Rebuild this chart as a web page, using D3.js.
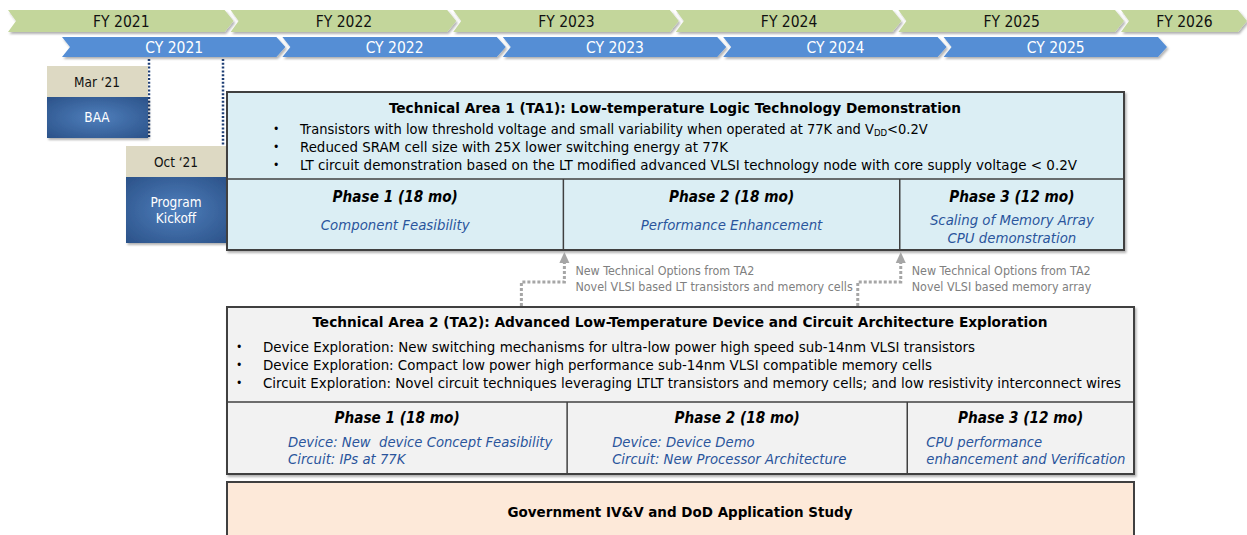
<!DOCTYPE html>
<html><head><meta charset="utf-8">
<script src="https://cdn.jsdelivr.net/npm/d3@7"></script>
<style>
html,body{margin:0;padding:0;background:#fff;}
svg text{font-family:Tahoma,"DejaVu Sans Condensed","DejaVu Sans",sans-serif;white-space:pre;}
</style></head>
<body><svg id="c" width="1247" height="535"></svg>
<script>
// ---------- data ----------
const fyLabels = ["FY 2021","FY 2022","FY 2023","FY 2024","FY 2025","FY 2026"];
const cyLabels = ["CY 2021","CY 2022","CY 2023","CY 2024","CY 2025"];
const milestoneMonths = [2, 9];                 // months from Jan 2021
const milestoneDates = ["Mar \u201821","Oct \u201821"];
const milestoneNames = [["BAA"],["Program","Kickoff"]];
const ta1Title = "Technical Area 1 (TA1): Low-temperature Logic Technology Demonstration";
const ta1Bullets = [
  ["Transistors with low threshold voltage and small variability when operated at 77K and V","DD","<0.2V"],
  ["Reduced SRAM cell size with 25X lower switching energy at 77K"],
  ["LT circuit demonstration based on the LT modified advanced VLSI technology node with core supply voltage < 0.2V"]
];
const phaseNames = ["Phase 1 (18 mo)","Phase 2 (18 mo)","Phase 3 (12 mo)"];
const phaseMonths = [18, 18, 12];
const ta1PhaseText = [["Component Feasibility"],["Performance Enhancement"],["Scaling of Memory Array","CPU demonstration"]];
const ta2Title = "Technical Area 2 (TA2): Advanced Low-Temperature Device and Circuit Architecture Exploration";
const ta2Bullets = [
  "Device Exploration: New switching mechanisms for ultra-low power high speed sub-14nm VLSI transistors",
  "Device Exploration: Compact low power high performance sub-14nm VLSI compatible memory cells",
  "Circuit Exploration: Novel circuit techniques leveraging LTLT transistors and memory cells; and low resistivity interconnect wires"
];
const ta2PhaseText = [["Device: New  device Concept Feasibility","Circuit: IPs at 77K"],["Device: Device Demo","Circuit: New Processor Architecture"],["CPU performance","enhancement and Verification"]];
const feedbackAtMonth = [18, 36];
const feedbackText = [["New Technical Options from TA2","Novel VLSI based LT transistors and memory cells"],["New Technical Options from TA2","Novel VLSI based memory array"]];
const govTitle = "Government IV&V and DoD Application Study";

// ---------- layout ----------
const svg = d3.select("#c");
const defs = svg.append("defs");
const sh = defs.append("filter").attr("id","sh").attr("x","-5%").attr("y","-20%").attr("width","115%").attr("height","150%");
sh.append("feDropShadow").attr("dx",1.5).attr("dy",2).attr("stdDeviation",1.2).attr("flood-color","#000").attr("flood-opacity",0.3);
const rg = defs.append("radialGradient").attr("id","bg").attr("cx","50%").attr("cy","50%").attr("r","70%");
rg.append("stop").attr("offset","0%").attr("stop-color","#4f7fbc");
rg.append("stop").attr("offset","100%").attr("stop-color","#2b5289");

const fyX = d3.scaleLinear().domain([0,1]).range([8, 230.6]);
const cyX = d3.scaleLinear().domain([0,1]).range([62, 282.4]);
const W = 1247;

function chev(s, e, top, h, d){
  const m = top + h/2;
  return `M${s},${top}L${e-6},${top}L${e+3},${m}L${e-6},${top+h}L${s},${top+h}L${s+d},${m}Z`;
}
// FY row
const fy = svg.append("g");
fyLabels.forEach((t,i)=>{
  const s = fyX(i), e = Math.min(fyX(i+1), W-3);
  fy.append("path").attr("d", chev(s,e,10,22,8)).attr("fill","#c3d69b").attr("filter","url(#sh)");
  fy.append("text").attr("x",(s+e)/2+2).attr("y",21).attr("dy","0.36em").attr("text-anchor","middle")
    .attr("font-size",15.5).attr("fill","#111").text(t);
});
// CY row
const cy = svg.append("g");
cyLabels.forEach((t,i)=>{
  const s = cyX(i), e = cyX(i+1);
  cy.append("path").attr("d", chev(s,e,37,20,8)).attr("fill","#558ed5").attr("filter","url(#sh)");
  cy.append("text").attr("x",(s+e)/2+2).attr("y",47).attr("dy","0.36em").attr("text-anchor","middle")
    .attr("font-size",15.5).attr("fill","#fff").text(t);
});

// milestones
const mX = d3.scaleLinear().domain([2,9]).range([149,223]);
const mTop = d3.scaleLinear().domain([2,9]).range([66,146]);
const bodyH = [41, 66];
milestoneMonths.forEach((mo,i)=>{
  const x = mX(mo), t = mTop(mo);
  svg.append("line").attr("x1",x).attr("x2",x).attr("y1",59).attr("y2",t+ (i?0:72))
    .attr("stroke","#1f3f75").attr("stroke-width",2.5).attr("stroke-dasharray","2,1.8");
  const r = x + (i?4:-1), l = r - 101;
  svg.append("rect").attr("x",l).attr("y",t).attr("width",101).attr("height",31).attr("fill","#ddd9c3");
  svg.append("text").attr("x",l+50).attr("y",t+16).attr("dy","0.36em").attr("text-anchor","middle")
    .attr("font-size",13.5).attr("fill","#111").text(milestoneDates[i]);
  svg.append("rect").attr("x",l).attr("y",t+31).attr("width",101).attr("height",bodyH[i]).attr("fill","url(#bg)").attr("filter","url(#sh)");
  const names = milestoneNames[i];
  names.forEach((n,k)=>{
    svg.append("text").attr("x",l+50).attr("y",t+31+bodyH[i]/2 + (k-(names.length-1)/2)*16).attr("dy","0.36em")
      .attr("text-anchor","middle").attr("font-size",13.5).attr("fill","#fff").text(n);
  });
});

// helper: fit text to width
function fit(sel, w){ const n = sel.node(); if(n.getComputedTextLength()>0){ sel.attr("textLength",w).attr("lengthAdjust","spacingAndGlyphs"); } return sel; }

// ----- TA1 -----
const ta1X = d3.scaleLinear().domain([0,48]).range([227,1124]);
const cum = [0, ...d3.cumsum(phaseMonths)];
const T1 = {top:92, div:179, bot:250};
svg.append("rect").attr("x",ta1X(0)).attr("y",T1.top).attr("width",ta1X(48)-ta1X(0)).attr("height",T1.bot-T1.top)
  .attr("fill","#dbeef4").attr("stroke","#404040").attr("stroke-width",2).attr("filter","url(#sh)");
svg.append("line").attr("x1",ta1X(0)).attr("x2",ta1X(48)).attr("y1",T1.div).attr("y2",T1.div).attr("stroke","#404040").attr("stroke-width",1.5);
cum.slice(1,-1).forEach(m=>svg.append("line").attr("x1",ta1X(m)).attr("x2",ta1X(m)).attr("y1",T1.div).attr("y2",T1.bot).attr("stroke","#404040").attr("stroke-width",1.5));
fit(svg.append("text").attr("x",675).attr("y",108).attr("dy","0.36em").attr("text-anchor","middle").attr("font-size",14.5)
  .attr("font-weight","bold").attr("fill","#000").text(ta1Title), 572);
const ta1W = [null, 428, 777];
ta1Bullets.forEach((b,i)=>{
  const y = 129 + i*18;
  svg.append("text").attr("x",273).attr("y",y).attr("dy","0.36em").attr("font-size",12).attr("fill","#000").text("\u2022");
  const t = svg.append("text").attr("x",300).attr("y",y).attr("dy","0.36em").attr("font-size",14.5).attr("fill","#000");
  if(b.length===3){
    t.append("tspan").text(b[0]);
    t.append("tspan").attr("font-size",9.5).attr("dy","0.2em").text(b[1]);
    t.append("tspan").attr("dy","-0.14em").text(b[2]);
  } else { t.text(b[0]); fit(t, ta1W[i]); }
});
phaseNames.forEach((p,i)=>{
  const cx = (ta1X(cum[i])+ta1X(cum[i+1]))/2;
  svg.append("text").attr("x",cx).attr("y",197).attr("dy","0.36em").attr("text-anchor","middle").attr("font-size",15.2)
    .attr("font-weight","bold").attr("font-style","italic").attr("fill","#000").text(p);
  const lines = ta1PhaseText[i];
  lines.forEach((l,k)=>{
    svg.append("text").attr("x",cx).attr("y",(lines.length>1?220:225)+k*18).attr("dy","0.36em").attr("text-anchor","middle")
      .attr("font-size",14.8).attr("font-style","italic").attr("fill","#2a559c").text(l);
  });
});

// ----- feedback arrows -----
feedbackAtMonth.forEach((m,i)=>{
  const x = ta1X(m)+1;
  const g = svg.append("g");
  g.append("path").attr("d",`M${x},261L${x},282L${x-43},282L${x-43},306`).attr("fill","none")
    .attr("stroke","#a6a6a6").attr("stroke-width",3).attr("stroke-dasharray","3,2");
  g.append("path").attr("d",`M${x-5},263L${x},252L${x+5},263Z`).attr("fill","#a6a6a6");
  feedbackText[i].forEach((t,k)=>{
    g.append("text").attr("x",x+11).attr("y",271+k*16).attr("dy","0.36em").attr("font-size",12.4).attr("fill","#808080").text(t);
  });
});

// ----- TA2 -----
const ta2X = d3.scaleLinear().domain([0,48]).range([227,1134]);
const T2 = {top:307, div:402, bot:474};
svg.append("rect").attr("x",ta2X(0)).attr("y",T2.top).attr("width",ta2X(48)-ta2X(0)).attr("height",T2.bot-T2.top)
  .attr("fill","#f2f2f2").attr("stroke","#404040").attr("stroke-width",2).attr("filter","url(#sh)");
svg.append("line").attr("x1",ta2X(0)).attr("x2",ta2X(48)).attr("y1",T2.div).attr("y2",T2.div).attr("stroke","#404040").attr("stroke-width",1.5);
cum.slice(1,-1).forEach(m=>svg.append("line").attr("x1",ta2X(m)).attr("x2",ta2X(m)).attr("y1",T2.div).attr("y2",T2.bot).attr("stroke","#404040").attr("stroke-width",1.5));
fit(svg.append("text").attr("x",680).attr("y",322).attr("dy","0.36em").attr("text-anchor","middle").attr("font-size",14.5)
  .attr("font-weight","bold").attr("fill","#000").text(ta2Title), 735);
const ta2W = [712, 669, 858];
ta2Bullets.forEach((b,i)=>{
  const y = 347 + i*18;
  svg.append("text").attr("x",236).attr("y",y).attr("dy","0.36em").attr("font-size",12).attr("fill","#000").text("\u2022");
  fit(svg.append("text").attr("x",263).attr("y",y).attr("dy","0.36em").attr("font-size",14.5).attr("fill","#000").text(b), ta2W[i]);
});
const ta2Inset = [61, 45, 19];
phaseNames.forEach((p,i)=>{
  const x0 = ta2X(cum[i]), cx = (x0+ta2X(cum[i+1]))/2;
  svg.append("text").attr("x",cx).attr("y",418).attr("dy","0.36em").attr("text-anchor","middle").attr("font-size",15.2)
    .attr("font-weight","bold").attr("font-style","italic").attr("fill","#000").text(p);
  ta2PhaseText[i].forEach((l,k)=>{
    svg.append("text").attr("x",x0+ta2Inset[i]).attr("y",442+k*17).attr("dy","0.36em")
      .attr("font-size",14.7).attr("font-style","italic").attr("fill","#2a559c").text(l);
  });
});

// ----- Government -----
svg.append("rect").attr("x",ta2X(0)).attr("y",482).attr("width",ta2X(48)-ta2X(0)).attr("height",70)
  .attr("fill","#fde9d9").attr("stroke","#404040").attr("stroke-width",2);
fit(svg.append("text").attr("x",680).attr("y",512).attr("dy","0.36em").attr("text-anchor","middle").attr("font-size",14)
  .attr("font-weight","bold").attr("fill","#000").text(govTitle), 345);
</script></body></html>
